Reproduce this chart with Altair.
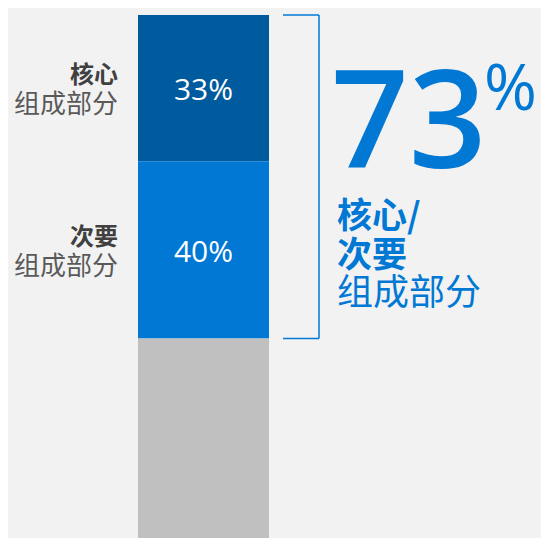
import altair as alt
import pandas as pd

# ---- data ----
segments = ["核心组成部分", "次要组成部分", "其他"]
values = [33, 40, 47]
bold_labels = ["核心", "次要", ""]
sub_labels = ["组成部分", "组成部分", ""]
pct_labels = ["33%", "40%", ""]
colors = ["#005a9e", "#0078d4", "#c0c0c0"]
total_label = "73"
right_lines = ["核心/", "次要", "组成部分"]

BLUE = "#0078d4"
CJK = "Noto Sans CJK SC"
NUM = "Open Sans"

df = pd.DataFrame({
    "segment": segments,
    "value": values,
    "bold": bold_labels,
    "sub": sub_labels,
    "pct": pct_labels,
    "col": ["bar"] * len(segments),
})
df["end"] = df["value"].cumsum()
df["start"] = df["end"] - df["value"]
df["mid"] = (df["start"] + df["end"]) / 2
labeled = df[df["pct"] != ""]

core_total = int(labeled["value"].sum())
bracket = pd.DataFrame({"pos": [0, core_total]})
bracket_v = pd.DataFrame({"top": [0], "bottom": [core_total]})

yscale = alt.Scale(domain=[0, 118], range=[7, 530], nice=False, zero=False)
xscale = alt.Scale(domain=["bar"], range=[130, 261], paddingInner=0, paddingOuter=0)

bars = alt.Chart(df).mark_bar(clip=True).encode(
    x=alt.X("col:N", scale=xscale, axis=None),
    y=alt.Y("start:Q", scale=yscale, axis=None),
    y2="end:Q",
    color=alt.Color("segment:N", scale=alt.Scale(domain=segments, range=colors), legend=None),
)

pct_text = alt.Chart(labeled).mark_text(
    font=NUM, fontSize=30, fontWeight=500, color="white", baseline="middle", align="center", dy=3
).encode(
    x=alt.X("col:N", scale=xscale, axis=None),
    y=alt.Y("mid:Q", scale=yscale, axis=None),
    text="pct:N",
)

left_bold = alt.Chart(labeled).mark_text(
    font=CJK, fontSize=24, fontWeight="bold", color="#404040",
    align="right", baseline="middle", dy=-12
).encode(
    x=alt.value(110),
    y=alt.Y("mid:Q", scale=yscale, axis=None),
    text="bold:N",
)

left_sub = alt.Chart(labeled).mark_text(
    font=CJK, fontSize=26, color="#595959",
    align="right", baseline="middle", dy=17
).encode(
    x=alt.value(110),
    y=alt.Y("mid:Q", scale=yscale, axis=None),
    text="sub:N",
)

rule_v = alt.Chart(bracket_v).mark_rule(color=BLUE, strokeWidth=1.5).encode(
    x=alt.value(311),
    y=alt.Y("top:Q", scale=yscale, axis=None),
    y2="bottom:Q",
)

rule_h = alt.Chart(bracket).mark_rule(color=BLUE, strokeWidth=1.5).encode(
    x=alt.value(275),
    x2=alt.value(311),
    y=alt.Y("pos:Q", scale=yscale, axis=None),
)

big = alt.Chart(pd.DataFrame({"t": [total_label]})).mark_text(
    font=NUM, fontSize=136, fontWeight=600, color=BLUE, align="left", baseline="alphabetic"
).encode(x=alt.value(323), y=alt.value(160), text="t:N")

pct_sign = alt.Chart(pd.DataFrame({"t": ["%"]})).mark_text(
    font=NUM, fontSize=64, fontWeight=400, color=BLUE, align="left", baseline="alphabetic"
).encode(x=alt.value(476), y=alt.value(102), text="t:N")

right_df = pd.DataFrame({
    "t": right_lines,
    "w": ["bold", "bold", "normal"],
    "line": [0, 1, 2],
})

right_y = alt.Scale(domain=[0, 2], range=[209, 286])

right_bold = alt.Chart(right_df[right_df["w"] == "bold"]).mark_text(
    font=CJK, fontSize=35, fontWeight="bold", color=BLUE, align="left", baseline="middle"
).encode(
    x=alt.value(329),
    y=alt.Y("line:Q", scale=right_y, axis=None),
    text="t:N",
)

right_norm = alt.Chart(right_df[right_df["w"] == "normal"]).mark_text(
    font=CJK, fontSize=36, color=BLUE, align="left", baseline="middle"
).encode(
    x=alt.value(329),
    y=alt.Y("line:Q", scale=right_y, axis=None),
    text="t:N",
)

chart = alt.layer(
    bars, pct_text, left_bold, left_sub, rule_v, rule_h, big, pct_sign, right_bold, right_norm
).resolve_scale(y="independent").properties(
    width=533, height=530, padding=0,
    autosize=alt.AutoSizeParams(type="none"),
    background="#f2f2f2",
).configure_view(stroke=None)

chart.save("out.html", embed_options={"renderer": "svg", "actions": False})
